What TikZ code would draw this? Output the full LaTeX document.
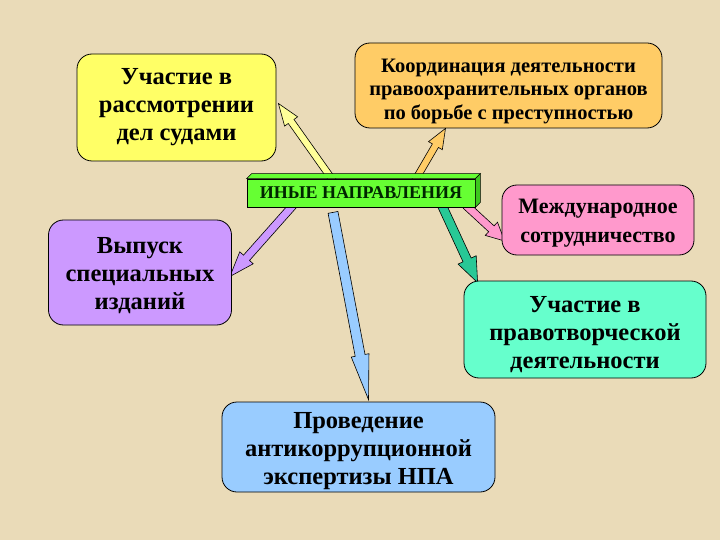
\documentclass[tikz,border=0pt]{standalone}
\usepackage{fontspec}
\setmainfont{Liberation Serif}
\usetikzlibrary{calc,backgrounds}

\definecolor{paper}{RGB}{234,219,184}
\definecolor{boxyellow}{RGB}{255,255,102}
\definecolor{arryellow}{RGB}{255,255,153}
\definecolor{boxorange}{RGB}{255,204,102}
\definecolor{boxgreen}{RGB}{102,255,51}
\definecolor{sidegreen}{RGB}{60,200,30}
\definecolor{boxviolet}{RGB}{204,153,255}
\definecolor{boxpink}{RGB}{255,153,204}
\definecolor{boxmint}{RGB}{102,255,204}
\definecolor{arrteal}{RGB}{40,200,150}
\definecolor{boxblue}{RGB}{153,204,255}

\tikzset{
  item/.style={draw=black, line width=0.8pt, rounded corners=15pt, align=center,
    inner sep=0pt, font=\fontsize{24.5}{28}\selectfont\bfseries},
}

% pushes the lines of a box a little down
\newcommand{\down}[1]{\rule{0pt}{#1}}

% from, to, fill, shaft half width, head half width, head length
\newcommand{\blockarrow}[6]{%
  \coordinate (ba-h) at ($(#2)!#6!(#1)$);
  \filldraw[fill=#3, draw=black, line width=0.6pt, line join=miter]
    ($(#1)!#4!90:(#2)$) -- ($(ba-h)!#4!90:(#2)$) -- ($(ba-h)!#5!90:(#2)$) -- (#2)
    -- ($(ba-h)!#5!-90:(#2)$) -- ($(ba-h)!#4!-90:(#2)$) -- ($(#1)!#4!-90:(#2)$) -- cycle;
}

\begin{document}
\begin{tikzpicture}[x=1pt, y=-1pt]
\begin{scope}[on background layer]
 \fill[paper] (0,0) rectangle (720,540);
\end{scope}
\useasboundingbox (0,0) rectangle (720,540);

\node[item, fill=boxyellow, minimum width=199pt, minimum height=107pt](court) at (176.5,107.5)
  {Участие в\\рассмотрении\\дел судами};
\node[item, fill=boxorange, minimum width=307pt, minimum height=85pt,
  font=\fontsize{20.5}{23.5}\selectfont\bfseries](coord) at (508.5,85.5)
  {\down{25pt}Координация деятельности\\правоохранительных органов\\по борьбе с преступностью};
\node[item, fill=boxviolet, minimum width=183pt, minimum height=105pt](pub) at (140,272.5)
  {\down{22pt}Выпуск\\специальных\\изданий};
\node[item, fill=boxpink, minimum width=192pt, minimum height=70pt,
  font=\fontsize{22}{29}\selectfont\bfseries](intl) at (598,220)
  {\down{20pt}Международное\\сотрудничество};
\node[item, fill=boxmint, minimum width=242pt, minimum height=97pt](law) at (585,329.5)
  {\down{27pt}Участие в\\правотворческой\\деятельности};
\node[item, fill=boxblue, minimum width=273pt, minimum height=90pt](exp) at (358.5,447)
  {\down{25pt}Проведение\\антикоррупционной\\экспертизы НПА};

% 3D plate in the middle
\node[draw=black, line width=0.8pt, fill=boxgreen, minimum width=228pt, minimum height=28pt,
  inner sep=0pt, text=black!85!green, font=\fontsize{18}{18}\selectfont\bfseries](mid) at (361,193)
  {ИНЫЕ НАПРАВЛЕНИЯ};
\filldraw[fill=boxgreen, draw=black, line width=0.6pt]
  (mid.north west) -- ++(5,-5) -- ($(mid.north east)+(5,-5)$) -- (mid.north east) -- cycle;
\filldraw[fill=sidegreen, draw=black, line width=0.6pt]
  (mid.north east) -- ++(5,-5) -- ($(mid.south east)+(5,-5)$) -- (mid.south east) -- cycle;

\begin{scope}[on background layer]
 \coordinate (s1) at ($(mid.north)+(-28,2)$);
 \coordinate (s2) at ($(mid.north)+(54,2)$);
 \coordinate (s3) at ($(mid.south)+(-68,-2)$);
 \coordinate (s4) at ($(mid.south)+(-28,5)$);
 \coordinate (s5) at ($(mid.south)+(80,-4)$);
 \coordinate (s6) at ($(mid.south)+(105,-2)$);
 \blockarrow{s1}{$(court.east)+(2,-4)$}{arryellow}{3.5pt}{8pt}{22pt}
 \blockarrow{s2}{$(coord.south)+(-63,0)$}{boxorange}{3.5pt}{8pt}{20pt}
 \blockarrow{s3}{$(pub.east)+(-2,4)$}{boxviolet}{4pt}{9pt}{25pt}
 \blockarrow{s4}{$(exp.north)+(10,-2)$}{boxblue}{5pt}{9pt}{45pt}
 \blockarrow{s5}{$(law.north west)+(14,2)$}{arrteal}{4.5pt}{10pt}{25pt}
 \blockarrow{s6}{$(intl.west)+(3,21)$}{boxpink}{4pt}{9pt}{18pt}
\end{scope}
\end{tikzpicture}
\end{document}
